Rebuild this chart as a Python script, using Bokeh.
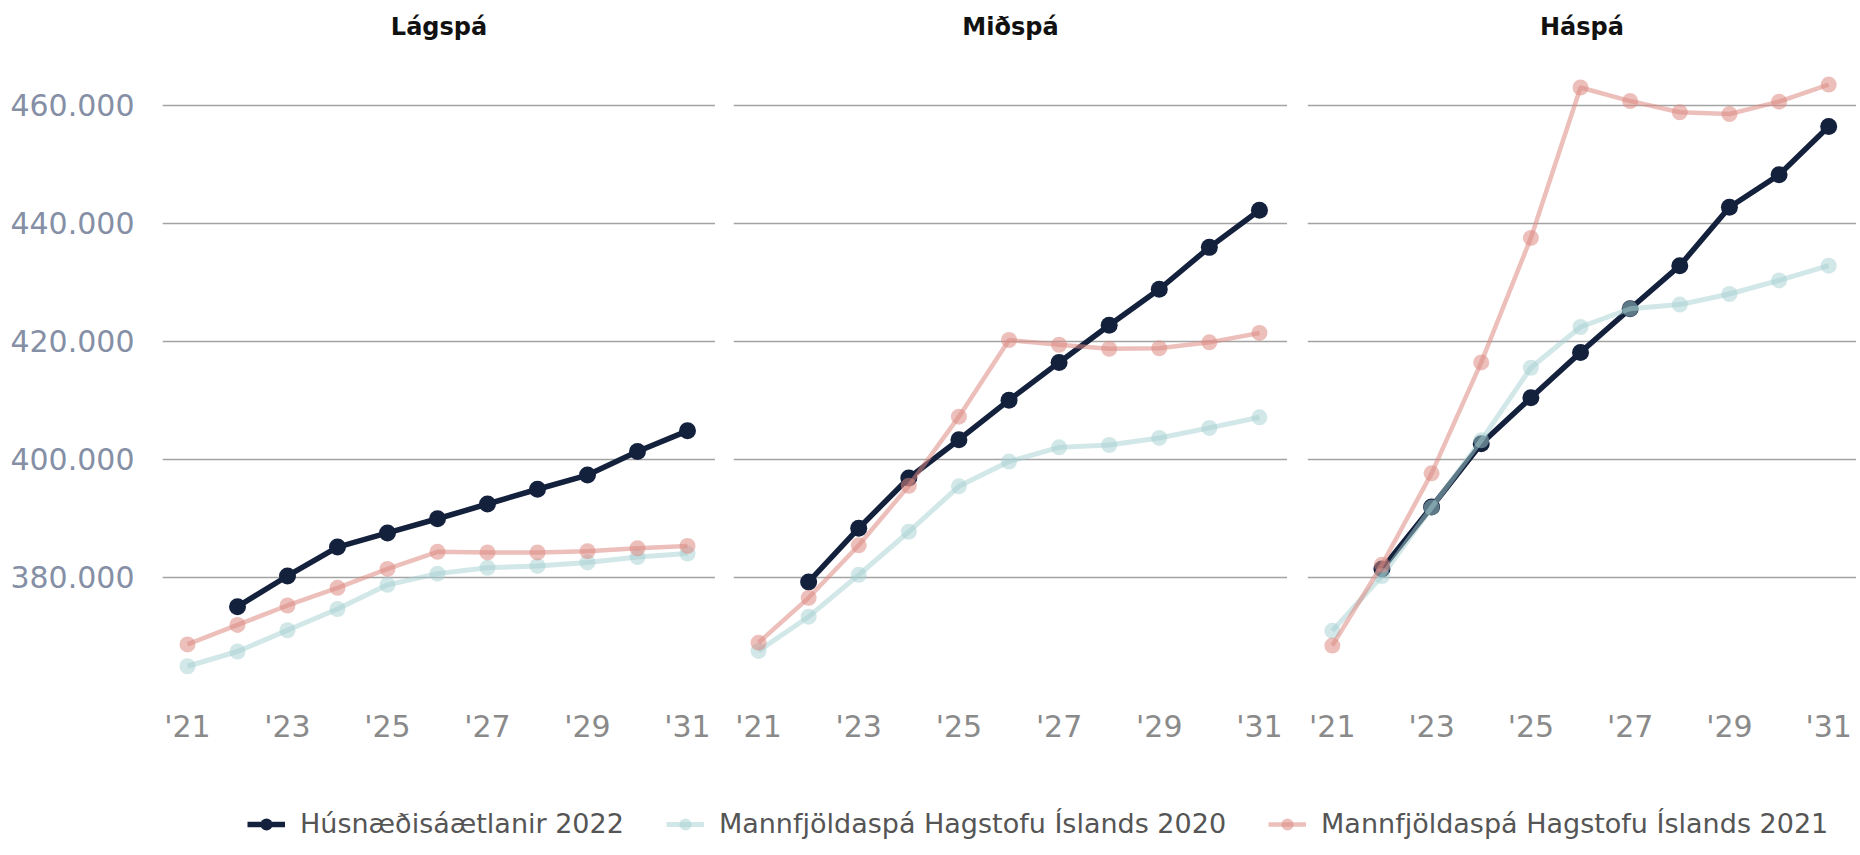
from bokeh.plotting import figure
from bokeh.models import Range1d, FixedTicker, Grid, Legend, LegendItem, ColumnDataSource, Label
from bokeh.layouts import row, column
from bokeh.embed import file_html
from bokeh.resources import INLINE

nan = float("nan")

years = [2021, 2022, 2023, 2024, 2025, 2026, 2027, 2028, 2029, 2030, 2031]
x_ticks = [2021, 2023, 2025, 2027, 2029, 2031]
x_tick_labels = ["'21", "'23", "'25", "'27", "'29", "'31"]
y_ticks = [380000, 400000, 420000, 440000, 460000]
y_tick_labels = ["380.000", "400.000", "420.000", "440.000", "460.000"]

panel_titles = ["Lágspá", "Miðspá", "Háspá"]
series_names = ["Húsnæðisáætlanir 2022",
                "Mannfjöldaspá Hagstofu Íslands 2020",
                "Mannfjöldaspá Hagstofu Íslands 2021"]

# Lágspá
husn_lag = [nan, 375000, 380200, 385100, 387500, 389900, 392400, 394900, 397300, 401300, 404800]
mann2020_lag = [364900, 367400, 371000, 374600, 378700, 380600, 381600, 381900, 382500, 383400, 384000]
mann2021_lag = [368600, 371900, 375200, 378200, 381400, 384300, 384200, 384200, 384400, 384900, 385300]

# Miðspá
husn_mid = [nan, 379200, 388300, 396800, 403300, 410000, 416400, 422700, 428800, 435900, 442200]
mann2020_mid = [367500, 373300, 380400, 387700, 395400, 399600, 402000, 402400, 403600, 405300, 407100]
mann2021_mid = [368900, 376500, 385400, 395500, 407200, 420200, 419400, 418700, 418800, 419800, 421400]

# Háspá
husn_has = [nan, 381400, 391900, 402600, 410400, 418100, 425500, 432800, 442700, 448200, 456400]
mann2020_has = [370900, 380200, 391800, 403200, 415500, 422400, 425500, 426200, 428000, 430300, 432800]
mann2021_has = [368400, 382100, 397600, 416400, 437500, 463000, 460700, 458800, 458500, 460600, 463500]

panels = [
    (husn_lag, mann2020_lag, mann2021_lag),
    (husn_mid, mann2020_mid, mann2021_mid),
    (husn_has, mann2020_has, mann2021_has),
]

DARK = "#14213d"
LIGHT = "#a6cfd2"
PINK = "#dc8a84"
styles = [
    dict(color=DARK, alpha=1.0, lw=5.5, size=17),
    dict(color=LIGHT, alpha=0.5, lw=5, size=16),
    dict(color=PINK, alpha=0.55, lw=4.5, size=16),
]

TOTAL_W = 1856
TITLE_H = 52
FRAME_TOP = 18
FRAME_H = 620
BOTTOM = 62
frame_widths = [553, 554, 549]
left_borders = [162, 18, 20]
X0, X1 = 2020.5, 2031.56
Y0, Y1 = 360790, 465880

# title strip (one row of three panel titles, each centred over its panel)
tstrip = figure(width=TOTAL_W, height=TITLE_H, output_backend="svg", toolbar_location=None,
                x_axis_location=None, y_axis_location=None,
                x_range=Range1d(0, TOTAL_W), y_range=Range1d(0, TITLE_H), min_border=0)
tstrip.outline_line_color = None
tstrip.center = [c for c in tstrip.center if not isinstance(c, Grid)]
edge = 0
for i, title in enumerate(panel_titles):
    fl = edge + left_borders[i]
    centre = fl + frame_widths[i] / 2
    edge = fl + frame_widths[i]
    tstrip.add_layout(Label(x=centre, y=TITLE_H - 26, text=title,
                            text_align="center", text_baseline="middle",
                            text_font="DejaVu Sans", text_font_style="bold",
                            text_font_size="24px", text_color="#111111"))

figs = []
for i, data in enumerate(panels):
    p = figure(width=left_borders[i] + frame_widths[i],
               height=FRAME_TOP + FRAME_H + BOTTOM,
               output_backend="svg", toolbar_location=None,
               x_range=Range1d(X0, X1), y_range=Range1d(Y0, Y1),
               y_axis_location="left" if i == 0 else None,
               min_border_left=left_borders[i], min_border_right=0,
               min_border_top=FRAME_TOP, min_border_bottom=BOTTOM)
    p.outline_line_color = None
    p.background_fill_color = "white"
    p.border_fill_color = "white"

    p.center = [c for c in p.center if not isinstance(c, Grid)]
    p.add_layout(Grid(dimension=1, ticker=FixedTicker(ticks=y_ticks),
                      grid_line_color="#a3a3a3", grid_line_width=1.5))

    xa = p.xaxis[0]
    xa.ticker = FixedTicker(ticks=x_ticks)
    xa.major_label_overrides = dict(zip(x_ticks, x_tick_labels))
    xa.axis_line_color = None
    xa.major_tick_line_color = None
    xa.minor_tick_line_color = None
    xa.major_label_text_font = "DejaVu Sans"
    xa.major_label_text_font_size = "30px"
    xa.major_label_text_color = "#8a8a8a"
    xa.major_label_standoff = 12

    if i == 0:
        ya = p.yaxis[0]
        ya.ticker = FixedTicker(ticks=y_ticks)
        ya.major_label_overrides = dict(zip(y_ticks, y_tick_labels))
        ya.axis_line_color = None
        ya.major_tick_line_color = None
        ya.minor_tick_line_color = None
        ya.major_label_text_font = "DejaVu Sans"
        ya.major_label_text_font_size = "30px"
        ya.major_label_text_color = "#858fa5"
        ya.major_label_standoff = 22

    for vals, st in zip(data, styles):
        src = ColumnDataSource(dict(x=years, y=vals))
        p.line("x", "y", source=src, line_color=st["color"], line_alpha=st["alpha"],
               line_width=st["lw"])
        p.scatter("x", "y", source=src, size=st["size"], fill_color=st["color"],
                  fill_alpha=st["alpha"], line_color=None)
    figs.append(p)

# legend strip
leg = figure(width=TOTAL_W, height=95, output_backend="svg", toolbar_location=None,
             x_axis_location=None, y_axis_location=None,
             x_range=Range1d(0, 1), y_range=Range1d(0, 1),
             min_border=0)
leg.outline_line_color = None
leg.center = [c for c in leg.center if not isinstance(c, Grid)]
items = []
for name, st in zip(series_names, styles):
    src = ColumnDataSource(dict(x=[-5, -4], y=[-5, -4]))
    r1 = leg.line("x", "y", source=src, line_color=st["color"], line_alpha=st["alpha"],
                  line_width=st["lw"])
    r2 = leg.scatter("x", "y", source=src, size=st["size"], fill_color=st["color"],
                     fill_alpha=st["alpha"], line_color=None)
    items.append(LegendItem(label=name, renderers=[r1, r2]))
legend = Legend(items=items, orientation="horizontal", location=(247, 8),
                label_text_font="DejaVu Sans", label_text_font_size="27px",
                label_text_color="#555555", glyph_width=38, glyph_height=30,
                label_height=30, label_standoff=15, spacing=42,
                padding=0, margin=0, border_line_color=None,
                background_fill_alpha=0)
leg.add_layout(legend, "center")

layout = column(tstrip, row(*figs), leg)
open("out.html", "w").write(file_html(layout, INLINE))
